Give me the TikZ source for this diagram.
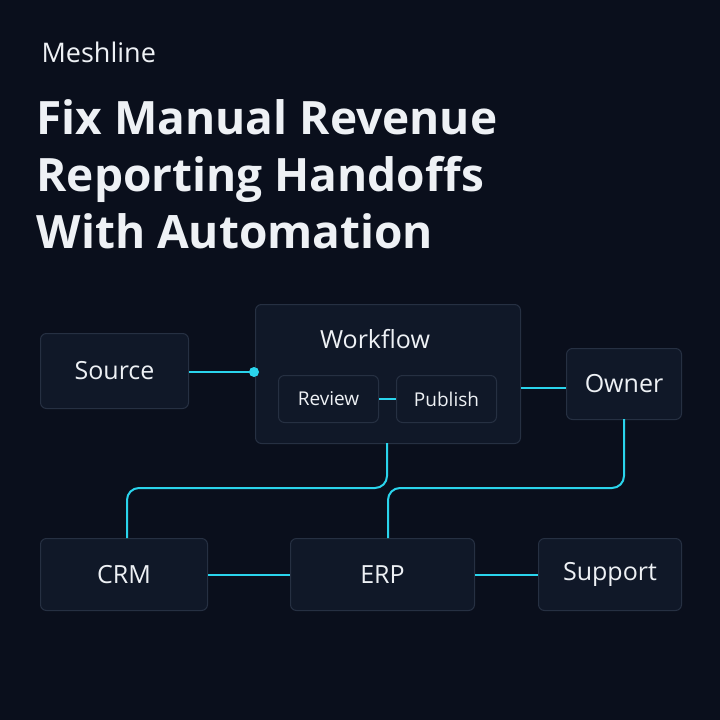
\documentclass[tikz,border=0pt]{standalone}
\usepackage{fontspec}
\setmainfont{Open Sans}
\usetikzlibrary{positioning}
\definecolor{bgdark}{HTML}{0A0F1C}
\definecolor{boxfill}{HTML}{101828}
\definecolor{boxline}{HTML}{263042}
\definecolor{linkcyan}{HTML}{2AD4EC}
\definecolor{textlight}{HTML}{EEF1F5}
\begin{document}
\begin{tikzpicture}[x=1pt,y=-1pt]
\tikzstyle{card} = [rectangle, rounded corners=6pt, draw=boxline, line width=1pt, fill=boxfill, text=textlight, anchor=north west, inner sep=0pt]
\tikzstyle{link} = [draw=linkcyan, line width=2pt, rounded corners=12pt]

\fill[bgdark] (0,0) rectangle (720,720);
\useasboundingbox (0,0) rectangle (720,720);

% heading
\node (brand) [anchor=west, text=textlight, font=\fontsize{27}{30}\selectfont] at (38,52) {Meshline};
\node (title) [anchor=north west, align=left, text=textlight, font=\fontsize{46}{57}\selectfont\bfseries] at (33,96) {Fix Manual Revenue\\Reporting Handoffs\\With Automation};

% boxes
\node (source) [card, minimum width=148pt, minimum height=75pt, font=\fontsize{25}{28}\selectfont] at (40,333) {Source};
\node (workflow) [card, minimum width=265pt, minimum height=139pt] at (255,304) {};
\node (wftitle) [text=textlight, font=\fontsize{25}{28}\selectfont] at (375,339) {Workflow};
\node (review) [card, minimum width=100pt, minimum height=47pt, font=\fontsize{19}{22}\selectfont] at (278,375) {Review};
\node (publish) [card, minimum width=100pt, minimum height=47pt, font=\fontsize{19}{22}\selectfont] at (396,375) {Publish};
\node (owner) [card, minimum width=115pt, minimum height=71pt, font=\fontsize{25}{28}\selectfont] at (566,348) {Owner};
\node (crm) [card, minimum width=167pt, minimum height=72pt, font=\fontsize{25}{28}\selectfont] at (40,538) {CRM};
\node (erp) [card, minimum width=184pt, minimum height=72pt, font=\fontsize{25}{28}\selectfont] at (290,538) {ERP};
\node (support) [card, minimum width=143pt, minimum height=72pt, font=\fontsize{25}{28}\selectfont] at (538,538) {Support};

% connectors
\coordinate (dot) at (254,372);
\draw[link] (source.east |- dot) -- (dot);
\fill[linkcyan] (dot) circle (5pt);
\draw[link] (review) -- (publish);
\draw[link] (workflow.east |- 0,388) -- (owner.west |- 0,388);
\draw[link] (387,443) -- (387,488) -- (127,488) -- (127,538);
\draw[link] (624,419) -- (624,488) -- (388,488) -- (388,538);
\draw[link] (crm) -- (erp);
\draw[link] (erp) -- (support);
\end{tikzpicture}
\end{document}
